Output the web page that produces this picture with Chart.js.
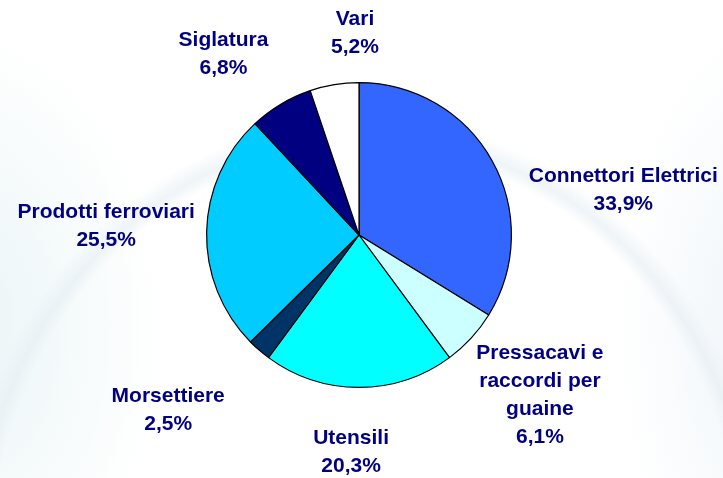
<!DOCTYPE html>
<html>
<head>
<meta charset="utf-8">
<script src="https://cdn.jsdelivr.net/npm/chart.js@4/dist/chart.umd.min.js"></script>
<style>
  html, body { margin: 0; padding: 0; }
  body {
    width: 723px; height: 478px; overflow: hidden;
    background:
      radial-gradient(ellipse 430px 470px at 365px 560px, rgba(255,255,255,0) 87%, rgba(228,237,242,0.6) 90%, rgba(255,255,255,0) 94%),
      radial-gradient(ellipse 200px 300px at -40px 330px, rgba(218,237,240,0.6), rgba(255,255,255,0) 100%),
      radial-gradient(ellipse 140px 300px at 760px 330px, rgba(228,238,246,0.6), rgba(255,255,255,0) 100%),
      #ffffff;
  }
  #wrap { position: relative; width: 723px; height: 478px; }
</style>
</head>
<body>
<div id="wrap"><canvas id="c" width="723" height="478"></canvas></div>
<script>
// ---- data ----
const categories = ["Connettori Elettrici", "Pressacavi e raccordi per guaine", "Utensili", "Morsettiere", "Prodotti ferroviari", "Siglatura", "Vari"];
const labelLines = [["Connettori Elettrici"], ["Pressacavi e", "raccordi per", "guaine"], ["Utensili"], ["Morsettiere"], ["Prodotti ferroviari"], ["Siglatura"], ["Vari"]];
const shares = [33.9, 6.1, 20.3, 2.5, 25.5, 6.8, 5.2];
const shareLabels = ["33,9%", "6,1%", "20,3%", "2,5%", "25,5%", "6,8%", "5,2%"];

// ---- styling / placement (not data) ----
const sliceColors = ["#3366FF", "#CCFFFF", "#00FFFF", "#003366", "#00CCFF", "#000080", "#FFFFFF"];
// label block centre, relative to pie centre, in units of the pie radius
const labelOffsetX = [1.734, 1.187, -0.052, -1.252, -1.659, -0.889, -0.026];
const labelOffsetY = [-0.292, 1.052, 1.426, 1.151, -0.056, -1.184, -1.325];

const labelPlugin = {
  id: 'pieLabels',
  afterDatasetsDraw(chart) {
    const ctx = chart.ctx;
    const meta = chart.getDatasetMeta(0);
    ctx.save();
    ctx.font = 'bold 21px "Liberation Sans", Arial, sans-serif';
    ctx.fillStyle = '#000080';
    ctx.textAlign = 'center';
    ctx.textBaseline = 'middle';
    const lineH = 28;
    meta.data.forEach((arc, i) => {
      const r = arc.outerRadius;
      const cx = arc.x + labelOffsetX[i] * r;
      const cy = arc.y + labelOffsetY[i] * r;
      const lines = labelLines[i].concat([shareLabels[i]]);
      const h = (lines.length - 1) * lineH;
      lines.forEach((t, k) => {
        ctx.fillText(t, cx, cy - h / 2 + k * lineH);
      });
    });
    ctx.restore();
  }
};

new Chart(document.getElementById('c'), {
  type: 'pie',
  data: {
    labels: categories,
    datasets: [{
      data: shares,
      backgroundColor: sliceColors,
      borderColor: '#000000',
      borderWidth: 1.2,
      borderAlign: 'center'
    }]
  },
  options: {
    responsive: false,
    animation: false,
    rotation: 0,
    layout: { padding: { left: 206, right: 211, top: 82, bottom: 90 } },
    plugins: {
      legend: { display: false },
      tooltip: { enabled: false }
    }
  },
  plugins: [labelPlugin]
});
</script>
</body>
</html>
